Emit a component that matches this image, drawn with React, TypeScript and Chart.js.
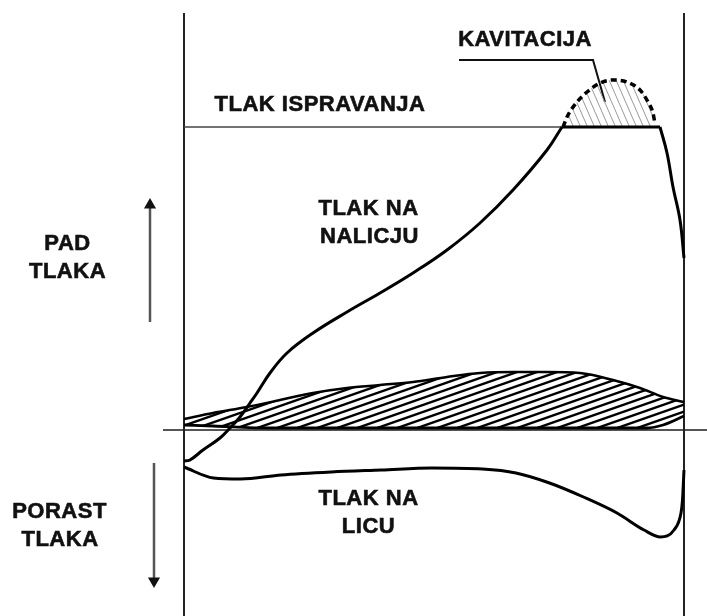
import { useEffect, useRef } from "react";
import { Chart, registerables } from "chart.js";

Chart.register(...registerables);

type P = [number, number];

// x: fraction of chord (0 = leading edge, 1 = trailing edge); y: relative pressure drop
const suctionRise: P[] = [
  [0.0, -0.31], [0.012, -0.3], [0.038, -0.2], [0.072, -0.08], [0.092, 0.02],
  [0.112, 0.13], [0.132, 0.27], [0.146, 0.37], [0.172, 0.57], [0.206, 0.77],
  [0.258, 0.97], [0.326, 1.18], [0.392, 1.37], [0.458, 1.57], [0.526, 1.8],
  [0.592, 2.07], [0.658, 2.4], [0.726, 2.8], [0.756, 3.03],
];
const suctionPlateau: P[] = [[0.756, 3.03], [0.952, 3.03]];
const suctionDrop: P[] = [
  [0.952, 3.03], [0.966, 2.77], [0.978, 2.43], [0.992, 2.1], [1.0, 1.72],
];
const cavitationArc: P[] = [
  [0.758, 3.03], [0.766, 3.13], [0.786, 3.28], [0.806, 3.38], [0.832, 3.47],
  [0.858, 3.5], [0.886, 3.48], [0.912, 3.4], [0.928, 3.28], [0.938, 3.17],
  [0.942, 3.06],
];
const pressureSide: P[] = [
  [0.0, -0.37], [0.059, -0.48], [0.113, -0.49], [0.194, -0.45], [0.295, -0.42],
  [0.395, -0.4], [0.496, -0.38], [0.597, -0.39], [0.664, -0.43], [0.731, -0.53],
  [0.799, -0.67], [0.866, -0.83], [0.92, -1.0], [0.953, -1.07], [0.98, -1.0],
  [0.994, -0.83], [0.997, -0.7], [1.0, -0.4],
];
const foilUpper: P[] = [
  [0.0, 0.11], [0.058, 0.17], [0.126, 0.23], [0.192, 0.3], [0.258, 0.37],
  [0.326, 0.42], [0.392, 0.45], [0.458, 0.48], [0.526, 0.53], [0.592, 0.57],
  [0.658, 0.58], [0.726, 0.58], [0.792, 0.57], [0.858, 0.5], [0.912, 0.42],
  [0.958, 0.33], [1.0, 0.28],
];
const foilLower: P[] = [
  [0.0, 0.05], [0.058, 0.04], [0.172, 0.02], [0.5, 0.02], [0.926, 0.02],
  [0.958, 0.05], [1.0, 0.14],
];
const vaporPressure = 3.03;
const vaporLine: P[] = [[0.0, vaporPressure], [0.952, vaporPressure]];
const chordLeft: P[] = [[0.0, -1.95], [0.0, 4.17]];
const chordRight: P[] = [[1.0, -1.95], [1.0, 4.17]];
const zeroLine: P[] = [[-0.042, 0], [1.05, 0]];
const upArrow: P[] = [[-0.068, 1.08], [-0.068, 2.25]];
const downArrow: P[] = [[-0.06, -0.33], [-0.06, -1.51]];
const leader: P[] = [[0.55, 3.7], [0.818, 3.7], [0.842, 3.28]];

const textLabels = [
  { text: "KAVITACIJA", x: 0.682, y: 3.9 },
  { text: "TLAK ISPRAVANJA", x: 0.272, y: 3.25 },
  { text: "TLAK NA", x: 0.369, y: 2.215 },
  { text: "NALICJU", x: 0.371, y: 1.935 },
  { text: "PAD", x: -0.233, y: 1.865 },
  { text: "TLAKA", x: -0.233, y: 1.585 },
  { text: "PORAST", x: -0.249, y: -0.815 },
  { text: "TLAKA", x: -0.248, y: -1.1 },
  { text: "TLAK NA", x: 0.369, y: -0.69 },
  { text: "LICU", x: 0.369, y: -0.97 },
];

const xy = (arr: P[]) => arr.map(([x, y]) => ({ x, y }));

function makeHatch(w: number, h: number, color: string, lw: number, up: boolean) {
  const c = document.createElement("canvas");
  c.width = w;
  c.height = h;
  const g = c.getContext("2d")!;
  g.strokeStyle = color;
  g.lineWidth = lw;
  g.lineCap = "butt";
  for (let k = -1; k <= 1; k++) {
    g.beginPath();
    if (up) {
      g.moveTo(-w, 2 * h + k * h);
      g.lineTo(2 * w, -h + k * h);
    } else {
      g.moveTo(-w, -h + k * h);
      g.lineTo(2 * w, 2 * h + k * h);
    }
    g.stroke();
  }
  return g.createPattern(c, "repeat")!;
}

const labelPlugin = {
  id: "textLabels",
  afterDatasetsDraw(chart: any) {
    const { ctx, scales } = chart;
    ctx.save();
    ctx.font = 'bold 22px "Liberation Sans", Arial, sans-serif';
    try { (ctx as any).letterSpacing = "0.5px"; } catch (e) {}
    ctx.fillStyle = "#111";
    ctx.strokeStyle = "#111";
    ctx.lineWidth = 0.6;
    ctx.textAlign = "center";
    ctx.textBaseline = "middle";
    for (const l of textLabels) {
      const px = scales.x.getPixelForValue(l.x);
      const py = scales.y.getPixelForValue(l.y);
      ctx.fillText(l.text, px, py);
      ctx.strokeText(l.text, px, py);
    }
    ctx.restore();
  },
};

export default function App() {
  const ref = useRef<HTMLCanvasElement>(null);
  useEffect(() => {
    if (!ref.current) return;
    const foilHatch = makeHatch(20, 7, "#000", 2.4, true);
    const cavHatch = makeHatch(7, 16, "#9a9a9a", 1, false);
    const curve = { borderColor: "#000", borderWidth: 3, pointRadius: 0, fill: false, clip: false };
    const chart = new Chart(ref.current, {
      type: "line",
      data: {
        datasets: [
          { ...curve, data: xy(suctionRise), tension: 0.4, order: 0 },
          { ...curve, data: xy(suctionPlateau), order: 0 },
          { ...curve, data: xy(suctionDrop), tension: 0.4, order: 0 },
          { ...curve, data: xy(pressureSide), cubicInterpolationMode: "monotone", order: 0 },
          {
            ...curve, data: xy(cavitationArc), cubicInterpolationMode: "monotone",
            borderWidth: 3.5, borderDash: [6, 4],
            fill: { value: vaporPressure }, backgroundColor: cavHatch, order: 1,
          },
          {
            ...curve, data: xy(foilUpper), cubicInterpolationMode: "monotone",
            borderWidth: 2.5, fill: "+1", backgroundColor: foilHatch, order: 2,
          },
          { ...curve, data: xy(foilLower), cubicInterpolationMode: "monotone", borderWidth: 2.8, order: 2 },
          { ...curve, data: xy(vaporLine), borderColor: "#444", borderWidth: 1.6, order: 3 },
          { ...curve, data: xy(chordLeft), borderColor: "#222", borderWidth: 2, order: 3 },
          { ...curve, data: xy(chordRight), borderColor: "#222", borderWidth: 2, order: 3 },
          { ...curve, data: xy(zeroLine), borderColor: "#555", borderWidth: 2.2, order: 4 },
          { ...curve, data: xy(leader), borderColor: "#111", borderWidth: 2, order: 1 },
          {
            ...curve, data: xy(upArrow), borderColor: "#555", borderWidth: 2.5,
            pointRadius: [0, 7], pointStyle: "triangle", pointRotation: 0,
            pointBackgroundColor: "#111", pointBorderWidth: 0, order: 3,
          },
          {
            ...curve, data: xy(downArrow), borderColor: "#555", borderWidth: 2.5,
            pointRadius: [0, 7], pointStyle: "triangle", pointRotation: 180,
            pointBackgroundColor: "#111", pointBorderWidth: 0, order: 3,
          },
        ] as any,
      },
      options: {
        animation: false,
        responsive: false,
        devicePixelRatio: 1,
        layout: { padding: 0, autoPadding: false },
        plugins: { legend: { display: false }, tooltip: { enabled: false } },
        elements: { point: { radius: 0 } },
        scales: {
          x: { type: "linear", min: -0.368, max: 1.046, display: false },
          y: { type: "linear", min: -1.86, max: 4.3, display: false },
        },
      },
      plugins: [labelPlugin],
    });
    return () => chart.destroy();
  }, []);
  return (
    <div style={{ position: "absolute", left: 0, top: 0, width: 707, height: 616, background: "#fff" }}>
      <canvas ref={ref} width={707} height={616} style={{ display: "block" }} />
    </div>
  );
}
